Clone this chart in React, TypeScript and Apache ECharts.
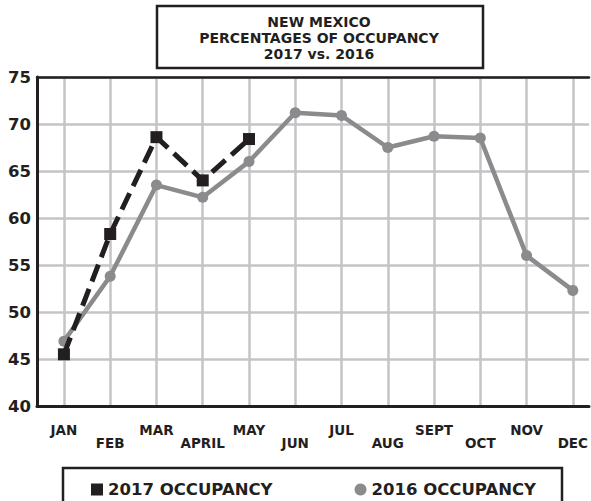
import React, { useEffect, useRef } from "react";
import * as echarts from "echarts";

const months = ["JAN", "FEB", "MAR", "APRIL", "MAY", "JUN", "JUL", "AUG", "SEPT", "OCT", "NOV", "DEC"];
const occ2017 = [45.5, 58.3, 68.6, 64.0, 68.4];
const occ2016 = [46.9, 53.8, 63.5, 62.2, 66.0, 71.2, 70.9, 67.5, 68.7, 68.5, 56.0, 52.3];
const yTicks = [40, 45, 50, 55, 60, 65, 70, 75];
const titleLines = ["NEW MEXICO", "PERCENTAGES OF OCCUPANCY", "2017 vs. 2016"];
const seriesNames = ["2017 OCCUPANCY", "2016 OCCUPANCY"];

const BLACK = "#231f20";
const GRAY = "#8b8b8e";
const GRID = "#c4c4c7";
const FONT = "'DejaVu Sans', sans-serif";

export default function App() {
  const ref = useRef<HTMLDivElement>(null);
  useEffect(() => {
    if (!ref.current) return;
    const chart = echarts.init(ref.current, null, { renderer: "svg" });
    const monthIdx = months.map((_, i) => i);
    const titleTexts = titleLines.map((line, i) => ({
      type: "text",
      x: 319,
      y: 21.6 + i * 16.4,
      z: 11,
      style: {
        text: line,
        align: "center",
        verticalAlign: "middle",
        fontFamily: FONT,
        fontWeight: "bold",
        fontSize: 14,
        fill: BLACK,
      },
    }));
    chart.setOption({
      animation: false,
      backgroundColor: "#ffffff",
      grid: { left: 37, right: 0, top: 77, bottom: 95, containLabel: false },
      xAxis: [
        {
          type: "value",
          position: "bottom",
          min: -0.582,
          max: 11.35,
          axisLine: { show: true, onZero: false, lineStyle: { color: BLACK, width: 3 } },
          axisTick: { show: false, customValues: monthIdx },
          splitLine: { show: true, lineStyle: { color: GRID, width: 2.5 } },
          axisLabel: {
            customValues: monthIdx,
            margin: 17,
            color: BLACK,
            fontFamily: FONT,
            fontWeight: "bold",
            fontSize: 13.5,
            lineHeight: 13,
            formatter: (v: number) => (Math.round(v) % 2 === 1 ? "\n" + months[Math.round(v)] : months[Math.round(v)]),
          },
        },
        {
          type: "value",
          position: "top",
          min: -0.582,
          max: 11.35,
          axisLine: { show: true, onZero: false, lineStyle: { color: BLACK, width: 2.5 } },
          axisTick: { show: false },
          splitLine: { show: false },
          axisLabel: { show: false },
        },
      ],
      yAxis: {
        type: "value",
        min: yTicks[0],
        max: yTicks[yTicks.length - 1],
        interval: 5,
        axisLine: { show: true, onZero: false, lineStyle: { color: BLACK, width: 3 } },
        axisTick: { show: false },
        splitLine: { show: true, lineStyle: { color: GRID, width: 2.5 } },
        axisLabel: {
          margin: 6,
          color: BLACK,
          fontFamily: FONT,
          fontWeight: "bold",
          fontSize: 16.5,
        },
      },
      legend: {
        left: 86,
        top: 476,
        itemWidth: 12,
        itemHeight: 12,
        itemGap: 82,
        textStyle: { color: BLACK, fontFamily: FONT, fontWeight: "bold", fontSize: 16.5 },
        data: [
          { name: seriesNames[0], icon: "rect" },
          { name: seriesNames[1], icon: "circle" },
        ],
      },
      series: [
        {
          name: seriesNames[1],
          type: "line",
          xAxisIndex: 0,
          data: occ2016.map((v, i) => [i, v]),
          symbol: "circle",
          symbolSize: 11,
          itemStyle: { color: GRAY },
          lineStyle: { color: GRAY, width: 4.5 },
          z: 3,
        },
        {
          name: seriesNames[0],
          type: "line",
          xAxisIndex: 0,
          data: occ2017.map((v, i) => [i, v]),
          symbol: "rect",
          symbolSize: 12,
          itemStyle: { color: BLACK },
          lineStyle: { color: BLACK, width: 5, type: [18, 8] },
          z: 4,
        },
      ],
      graphic: [
        {
          type: "rect",
          shape: { x: 157, y: 6, width: 326, height: 62 },
          style: { fill: "#ffffff", stroke: BLACK, lineWidth: 2.5 },
          z: 10,
        },
        ...titleTexts,
        {
          type: "rect",
          shape: { x: 63, y: 468, width: 499, height: 60 },
          style: { fill: "none", stroke: BLACK, lineWidth: 2.5 },
          z: 10,
        },
      ],
    });
    return () => chart.dispose();
  }, []);
  return (
    <div
      ref={ref}
      style={{ position: "fixed", left: 0, top: 0, width: 591, height: 501 }}
    />
  );
}
